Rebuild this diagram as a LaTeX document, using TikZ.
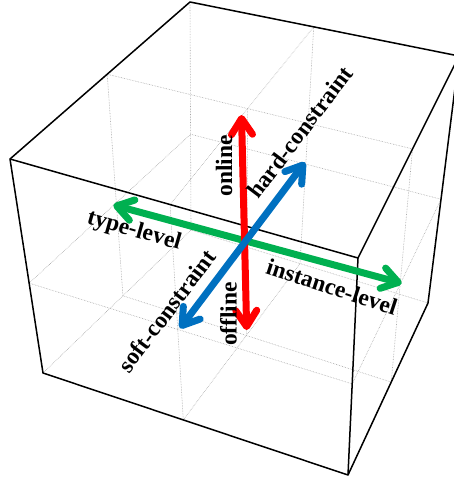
\documentclass[tikz,border=0pt]{standalone}
\usepackage{fontspec}
\setmainfont{Liberation Serif}
\usetikzlibrary{calc,arrows.meta}
\definecolor{arrred}{RGB}{255,0,0}
\definecolor{arrgreen}{RGB}{0,176,80}
\definecolor{arrblue}{RGB}{0,112,192}
\tikzset{
  gridline/.style={gray!70,densely dotted,line width=0.6pt},
  boxedge/.style={black,line width=1.5pt,line join=round},
  twoway/.style={line width=7pt,{Straight Barb[length=16pt,width=21pt,round]}-{Straight Barb[length=16pt,width=21pt,round]}},
  lbl/.style={font=\fontsize{23.5}{23.5}\selectfont\bfseries,inner sep=0pt}
}

\begin{document}
\begin{tikzpicture}[x=1pt,y=-1pt]
\useasboundingbox (0,0) rectangle (454,480);
% corners p<u><v><w>
\coordinate (p000) at (43,373);
\coordinate (p200) at (348,475);
\coordinate (p020) at (10,159);
\coordinate (p220) at (358,258);
\coordinate (p002) at (191,230);
\coordinate (p202) at (428,303);
\coordinate (p022) at (190,2);
\coordinate (p222) at (459,56);
% middle points
\foreach \y in {0,2} {
  \foreach \z in {0,2} {
    \coordinate (p1\y\z) at ($(p0\y\z)!0.46!(p2\y\z)$);
  }
}
\foreach \x in {0,1,2} {
  \foreach \z in {0,2} {
    \coordinate (p\x1\z) at ($(p\x0\z)!0.42!(p\x2\z)$);
  }
}
\foreach \x in {0,1,2} {
  \foreach \y in {0,1,2} {
    \coordinate (p\x\y1) at ($(p\x\y0)!0.54!(p\x\y2)$);
  }
}
\foreach \a in {0,1,2} {
  \foreach \b in {0,1,2} {
    \draw[gridline] (p0\a\b) -- (p2\a\b);
    \draw[gridline] (p\a0\b) -- (p\a2\b);
    \draw[gridline] (p\a\b0) -- (p\a\b2);
  }
}
% box
\draw[boxedge] (p000) -- (p200) -- (p202) -- (p222) -- (p022) -- (p020) -- cycle;
\draw[boxedge] (p020) -- (p220) -- (p222);
\draw[boxedge] (p220) -- (p200);
% arrows
\coordinate (typ) at (113.3,205);
\coordinate (ins) at (401.7,283.3);
\coordinate (onl) at (241.5,115);
\coordinate (offl) at (246.7,330);
\coordinate (hard) at (305,162.3);
\coordinate (soft) at (180,328.3);
\draw[twoway,arrgreen] (typ) -- (ins);
\draw[twoway,arrred] (onl) -- (offl);
\draw[twoway,arrblue] (soft) -- (hard);
% labels
\node[lbl,rotate=90] (online) at (224,166) {online};
\node[lbl,rotate=90] (offline) at (228.5,314) {offline};
\node[lbl,rotate=53] (hardc) at (300,132) {hard-constraint};
\node[lbl,rotate=53] (softc) at (166.5,311) {soft-constraint};
\node[lbl,rotate=-16] (typel) at (134,231) {type-level};
\node[lbl,rotate=-18] (instl) at (332,287) {instance-level};
\end{tikzpicture}
\end{document}
